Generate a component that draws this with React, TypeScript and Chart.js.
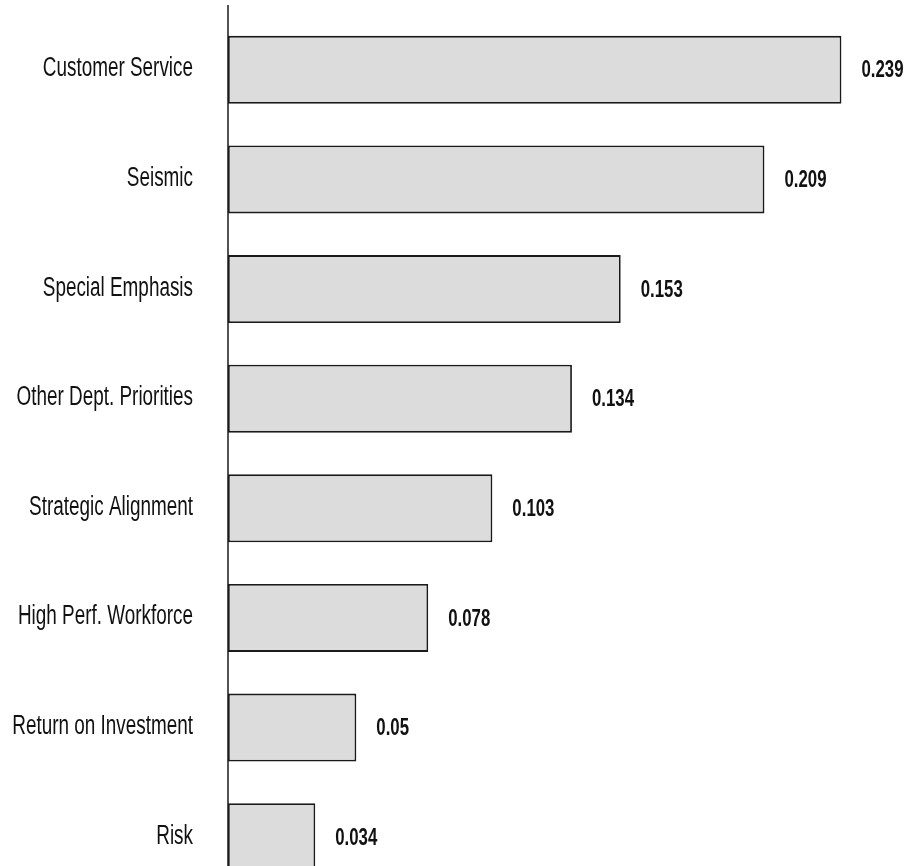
import React, { useEffect, useRef } from "react";
import { Chart, registerables } from "chart.js";

Chart.register(...registerables);

const categories = [
  "Customer Service",
  "Seismic",
  "Special Emphasis",
  "Other Dept. Priorities",
  "Strategic Alignment",
  "High Perf. Workforce",
  "Return on Investment",
  "Risk",
];
const weights = [0.239, 0.209, 0.153, 0.134, 0.103, 0.078, 0.05, 0.034];
const valueLabels = ["0.239", "0.209", "0.153", "0.134", "0.103", "0.078", "0.05", "0.034"];

const FONT = "'Liberation Sans', Arial, sans-serif";
const SQUEEZE = 0.7;

export default function App() {
  const ref = useRef<HTMLCanvasElement | null>(null);

  useEffect(() => {
    if (!ref.current) return;
    const axisLine = {
      id: "axisLine",
      afterDraw(chart: any) {
        const { ctx, chartArea } = chart;
        ctx.save();
        ctx.strokeStyle = "#1a1a1a";
        ctx.lineWidth = 1.5;
        ctx.beginPath();
        ctx.moveTo(chartArea.left, 5);
        ctx.lineTo(chartArea.left, chart.height);
        ctx.stroke();
        ctx.restore();
      },
    };
    const textPlugin = {
      id: "texts",
      afterDatasetsDraw(chart: any) {
        const { ctx } = chart;
        const meta = chart.getDatasetMeta(0);
        const yScale = chart.scales.y;
        ctx.save();
        ctx.fillStyle = "#111";
        ctx.textBaseline = "middle";
        meta.data.forEach((bar: any, i: number) => {
          ctx.save();
          ctx.font = `bold 24px ${FONT}`;
          ctx.textAlign = "left";
          ctx.translate(bar.x + 20, bar.y + 1);
          ctx.scale(SQUEEZE, 1);
          ctx.fillText(valueLabels[i], 0, 0);
          ctx.restore();

          ctx.save();
          ctx.font = `27px ${FONT}`;
          ctx.textAlign = "right";
          ctx.translate(yScale.right - 35, bar.y - 1);
          ctx.scale(SQUEEZE, 1);
          ctx.fillText(categories[i], 0, 0);
          ctx.restore();
        });
        ctx.restore();
      },
    };
    const chart = new Chart(ref.current, {
      type: "bar",
      data: {
        labels: categories,
        datasets: [
          {
            data: weights,
            backgroundColor: "#dcdcdc",
            borderColor: "#1a1a1a",
            borderWidth: 1.8,
            borderSkipped: false,
            barPercentage: 0.62,
            categoryPercentage: 1,
          },
        ],
      },
      options: {
        indexAxis: "y",
        animation: false,
        responsive: false,
        maintainAspectRatio: false,
        layout: { padding: { top: 15, bottom: 0, left: 0, right: 2 } },
        plugins: {
          legend: { display: false },
          tooltip: { enabled: false },
          title: { display: false },
        },
        scales: {
          x: {
            display: false,
            min: 0,
            max: 0.27,
          },
          y: {
            grid: { display: false, drawTicks: false },
            border: { display: false },
            afterFit(scale: any) {
              scale.width = 228;
              scale.paddingTop = 0;
              scale.paddingBottom = 0;
            },
            ticks: { display: false },
          },
        },
      },
      plugins: [axisLine, textPlugin],
    });
    return () => chart.destroy();
  }, []);

  return (
    <div
      style={{
        position: "fixed",
        left: 0,
        top: 0,
        width: 923,
        height: 866,
        overflow: "hidden",
        background: "#fff",
      }}
    >
      <canvas ref={ref} width={923} height={892} style={{ display: "block", width: 923, height: 892 }} />
    </div>
  );
}
